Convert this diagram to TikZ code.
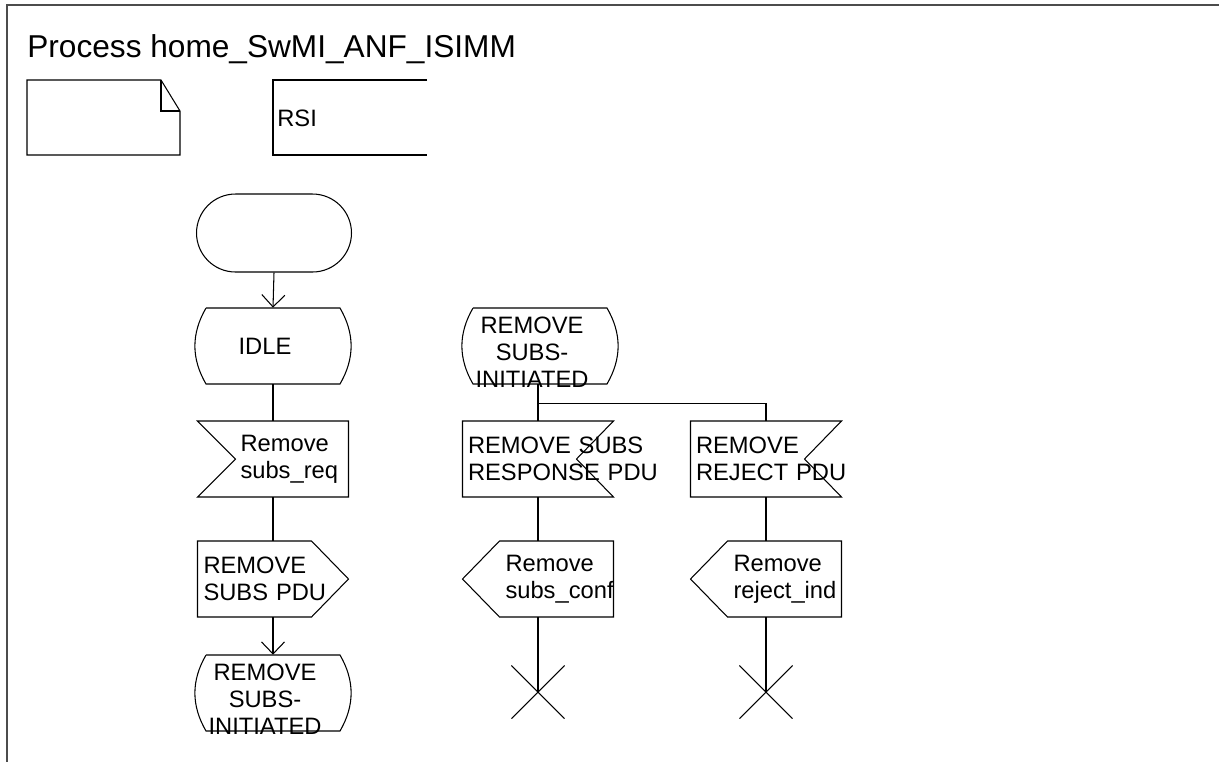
\documentclass[tikz,border=0pt]{standalone}
\usepackage{fontspec}
\setmainfont{Liberation Sans}
\usetikzlibrary{arrows.meta,shapes.misc}

\newcommand{\symfont}{\fontsize{13.5}{15.3}\selectfont}
\newcommand{\titlefont}{\fontsize{18}{21}\selectfont}

% outlines of the SDL symbols, drawn round a node's centre (units are px)
\newcommand{\statesym}[1]{%
  \draw[symline] (#1.center) ++(-67,-38) -- ++(134,0) to[bend left=30] ++(0,76)
    -- ++(-134,0) to[bend left=30] ++(0,-76);}
\newcommand{\inputnotchL}[1]{%
  \draw[symline] (#1.center) ++(-75.5,-38) -- ++(151,0) -- ++(0,76) -- ++(-151,0)
    -- ++(38,-38) -- cycle;}
\newcommand{\inputnotchR}[1]{%
  \draw[symline] (#1.center) ++(-75.5,-38) -- ++(151,0) -- ++(-37,38) -- ++(37,38)
    -- ++(-151,0) -- cycle;}
\newcommand{\outputR}[1]{%
  \draw[symline] (#1.center) ++(-75.5,-38) -- ++(114,0) -- ++(37,38) -- ++(-37,38)
    -- ++(-114,0) -- cycle;}
\newcommand{\outputL}[1]{%
  \draw[symline] (#1.center) ++(75.5,-38) -- ++(-114,0) -- ++(-37,38) -- ++(37,38)
    -- ++(114,0) -- cycle;}

\tikzset{
  symline/.style={line width=0.6pt},
  sym/.style={inner sep=0pt, minimum height=1.52cm, text width=5.2cm, font=\symfont},
  statebox/.style={sym, align=center, execute at begin node={\advance\rightskip by 0.32cm}},
  longstate/.style={statebox, text depth=0.84cm},
  textbox/.style={sym, align=left, execute at begin node={\leftskip=#1}},
  flow/.style={line width=0.6pt},
  arr/.style={flow, -{Straight Barb[length=0.24cm, width=0.46cm]}},
  stopsym/.style={draw, cross out, line width=0.6pt, minimum size=1.04cm, inner sep=0pt},
}

\begin{document}
\begin{tikzpicture}[x=0.02cm, y=-0.02cm]
  \useasboundingbox (0,0) rectangle (1219,762);
  % frame and header
  \draw[line width=0.8pt, black!70] (1219,5) -| (7,762);
  \node[anchor=base west, inner sep=0pt, font=\titlefont] (title) at (27,57) {Process home\_SwMI\_ANF\_ISIMM};
  \draw[symline] (27,80) -- (161,80) -- (180,111) -- (180,155) -- (27,155) -- cycle;
  \draw[symline] (161,80) -- (161,111) -- (180,111);
  \draw[symline] (427,80) -- (273,80) -- (273,155) -- (427,155);
  \node[anchor=west, inner sep=0pt, font=\symfont] (rsi) at (277,118) {RSI};

  % left column
  \node[draw, symline, rounded corners=0.78cm, minimum width=3.1cm, minimum height=1.56cm, inner sep=0pt] (start) at (274,233) {};
  \node[statebox] (idle) at (273,346) {IDLE};
  \node[textbox=1.95cm] (req) at (273,459) {Remove\\subs\_req};
  \node[textbox=1.21cm] (pdu) at (273,579) {REMOVE\\SUBS PDU};
  \node[longstate] (waitL) at (273,693) {REMOVE\\SUBS-\\INITIATED};
  \statesym{idle}
  \inputnotchL{req}
  \outputR{pdu}
  \statesym{waitL}

  % middle and right columns
  \node[longstate] (waitM) at (540,346) {REMOVE\\SUBS-\\INITIATED};
  \node[textbox=1.2cm] (resp) at (538,459) {REMOVE SUBS\\RESPONSE PDU};
  \node[textbox=1.2cm] (rej) at (766,459) {REMOVE\\REJECT PDU};
  \node[textbox=1.95cm] (conf) at (538,579) {Remove\\subs\_conf};
  \node[textbox=1.95cm] (ind) at (766,579) {Remove\\reject\_ind};
  \node[stopsym] (stopM) at (538,692) {};
  \node[stopsym] (stopR) at (766,692) {};
  \statesym{waitM}
  \inputnotchR{resp}
  \inputnotchR{rej}
  \outputL{conf}
  \outputL{ind}

  % connectors
  \draw[arr] (start.south) -- (idle.north);
  \draw[flow] (idle.south) -- (req.north);
  \draw[flow] (req.south) -- (pdu.north);
  \draw[arr] (pdu.south) -- (waitL.north);
  \draw[flow] (waitM.south -| resp.north) -- (resp.north);
  \draw[flow] (waitM.south -| resp.north) -- ++(0,19) -| (rej.north);
  \draw[flow] (resp.south) -- (conf.north);
  \draw[flow] (rej.south) -- (ind.north);
  \draw[flow] (conf.south) -- (stopM.center);
  \draw[flow] (ind.south) -- (stopR.center);
\end{tikzpicture}
\end{document}
